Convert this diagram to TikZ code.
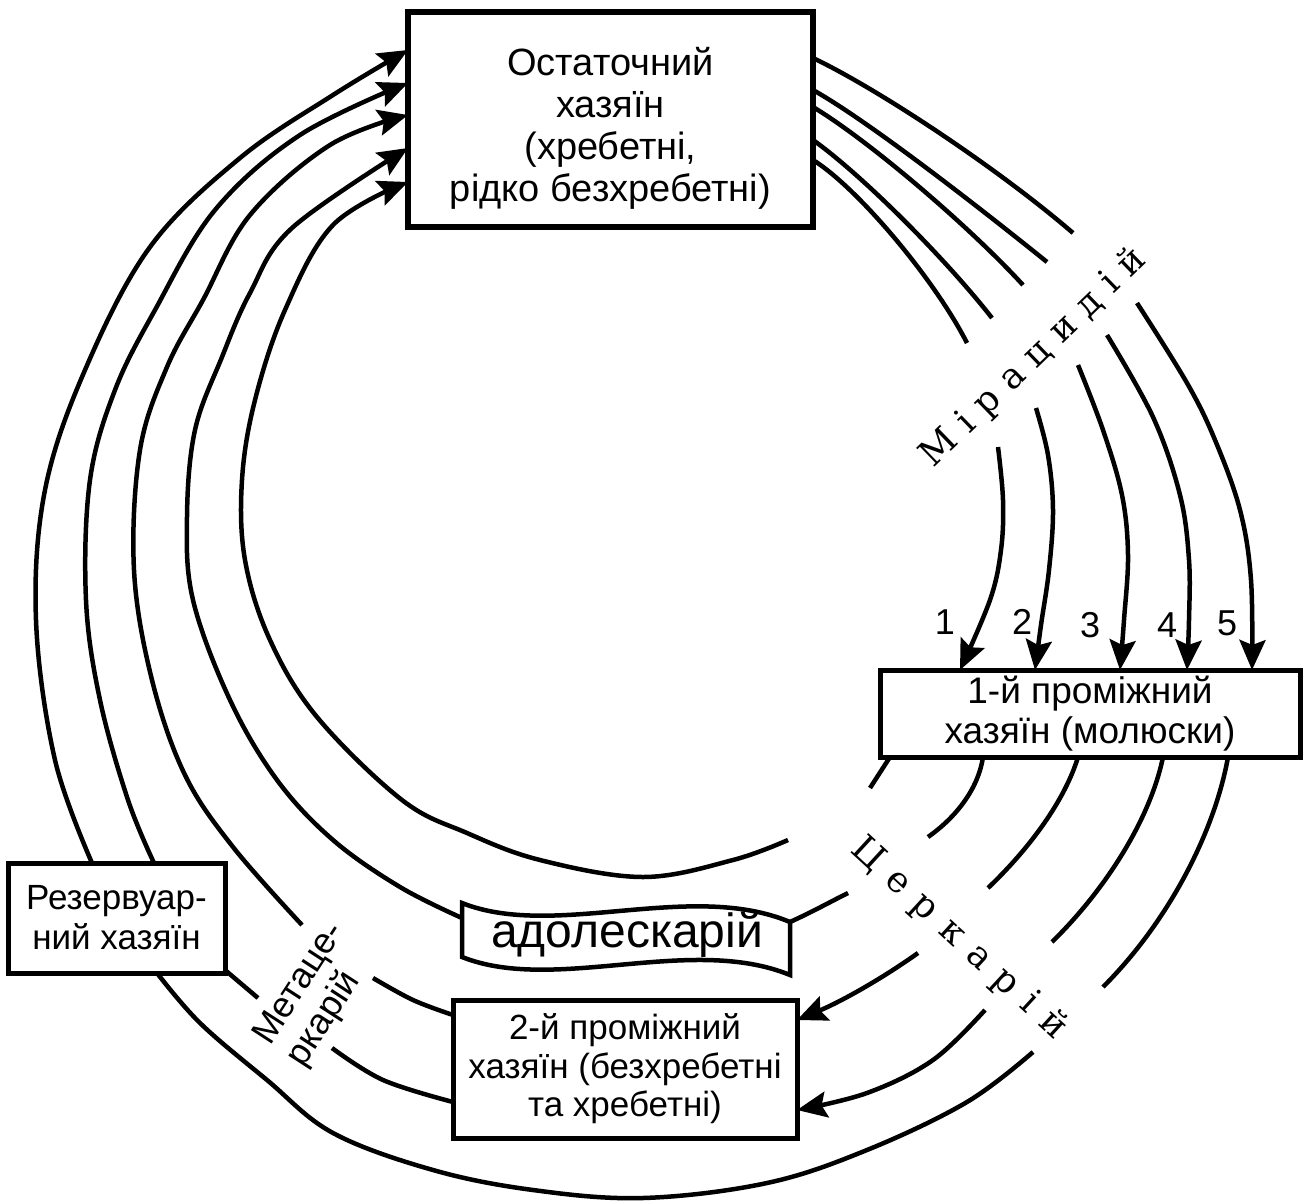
\documentclass[tikz,border=0pt]{standalone}
\usepackage{fontspec}
\setmainfont{Liberation Sans}
\newfontfamily\lserif{DejaVu Serif}
\usetikzlibrary{arrows.meta}
\newcommand\gapM{\hskip 12.5pt\relax}
\newcommand\gapC{\hskip 14.4pt\relax}
\begin{document}
\begin{tikzpicture}[x=1pt,y=-1pt,
  conn/.style={line width=4.5pt},
  arr/.style={-{Stealth[length=30pt,width=26pt,inset=5pt]}},
  box/.style={draw,line width=5pt,rectangle,inner sep=0pt,align=center},
  lbl/.style={font=\fontsize{36}{40}\selectfont,inner sep=0pt},
  spaced/.style={font=\lserif\fontsize{36}{36}\selectfont,inner sep=0pt}]
\fill[white] (0,0) rectangle (1304,1202);
\useasboundingbox (0,0) rectangle (1304,1202);

% ---------- boxes ----------
\node[box,line width=5.5pt,minimum width=405pt,minimum height=215pt] (top) at (610.5,119.5) {};
\node[align=center,inner sep=0pt,font=\fontsize{38}{42}\selectfont] (toptext)
  at ([yshift=-9pt]top.center) {Остаточний\\хазяїн\\(хребетні,\\рідко безхребетні)};
\node[box,minimum width=420pt,minimum height=87pt,
      font=\fontsize{37}{40}\selectfont] (host1) at (1090,713.5)
      {1-й проміжний\\хазяїн (молюски)};
\node[box,minimum width=344pt,minimum height=138pt,
      font=\fontsize{35}{38.5}\selectfont] (host2) at (625,1069)
      {2-й проміжний\\хазяїн (безхребетні\\та хребетні)};
\node[box,minimum width=217pt,minimum height=110pt,
      font=\fontsize{35}{40}\selectfont] (res) at (116.5,918)
      {Резервуар-\\ний хазяїн};

% banner
\draw[conn] (462,903) .. controls (555,940) and (690,880) .. (790,922)
  -- (790,975) .. controls (690,934) and (555,994) .. (462,957) -- cycle;
\node[font=\fontsize{48}{48}\selectfont,inner sep=0pt] (adol) at (627,935) {адолескарій};

% ---------- connection points ----------
\coordinate (t1) at (408,50);  \coordinate (t2) at (408,83);
\coordinate (t3) at (408,115); \coordinate (t4) at (408,148);
\coordinate (t5) at (408,182);
\coordinate (e1) at (813,58);  \coordinate (e2) at (813,90);
\coordinate (e3) at (813,107); \coordinate (e4) at (813,140);
\coordinate (e5) at (813,160);
\coordinate (p1) at (960,670);  \coordinate (p2) at (1035,670);
\coordinate (p3) at (1120,670); \coordinate (p4) at (1187,670);
\coordinate (p5) at (1252,670);
\coordinate (q1) at (890,757);  \coordinate (q2) at (983,757);
\coordinate (q3) at (1078,757); \coordinate (q4) at (1163,757);
\coordinate (q5) at (1228,757);
\coordinate (s1) at (797,1020); \coordinate (s2) at (797,1110);
\coordinate (w1) at (453,1015); \coordinate (w2) at (453,1102);
\coordinate (r1) at (92,863);   \coordinate (r2) at (154,863);
\coordinate (r3) at (157,973);  \coordinate (r4) at (225,970);
\coordinate (bl) at (462,918);  \coordinate (br) at (790,922);

% ---------- arcs into the final host ----------
\draw[conn,arr] plot[smooth,tension=0.6] coordinates
  {(r1) (55,760) (36,620) (45,490) (85,370) (150,247) (240,158) (333,95) (t1)};
\draw[conn,arr] plot[smooth,tension=0.6] coordinates
  {(r2) (128,800) (100,700) (86,600) (90,480) (115,390) (155,310) (215,210) (300,135) (t2)};
\draw[conn,arr] plot[smooth,tension=0.6] coordinates
  {(302,925) (233,847) (185,775) (152,680) (134,570) (140,450) (167,367) (203,300) (250,215) (330,145) (t3)};
\draw[conn,arr] plot[smooth,tension=0.6] coordinates
  {(bl) (400,887) (333,840) (277,780) (230,700) (193,600) (187,517) (195,430) (222,357) (250,293) (292,228) (t4)};
\draw[conn,arr] plot[smooth,tension=0.6] coordinates
  {(788,840) (733,860) (643,877) (540,860) (467,833) (402,800) (317,717) (270,640) (245,560) (242,480) (255,400) (285,310) (333,225) (t5)};

% ---------- miracidia ----------
\draw[conn] (e1) .. controls (880,90) and (1000,170) .. (1073,233);
\draw[conn] (e2) .. controls (870,122) and (985,212) .. (1047,262);
\draw[conn] (e3) .. controls (868,140) and (968,225) .. (1023,285);
\draw[conn] (e4) .. controls (862,175) and (945,258) .. (992,318);
\draw[conn] (e5) .. controls (858,188) and (935,280) .. (967,343);

\draw[conn,arr] plot[smooth,tension=0.6] coordinates {(1137,303) (1187,383) (1215,440) (1240,510) (1251,580) (p5)};
\draw[conn,arr] plot[smooth,tension=0.6] coordinates {(1107,335) (1153,417) (1180,495) (1189,560) (1189,620) (p4)};
\draw[conn,arr] plot[smooth,tension=0.6] coordinates {(1078,365) (1103,430) (1122,495) (1128,555) (1124,620) (p3)};
\draw[conn,arr] plot[smooth,tension=0.6] coordinates {(1036,408) (1048,455) (1053,510) (1049,570) (1041,625) (p2)};
\draw[conn,arr] plot[smooth,tension=0.6] coordinates {(998,447) (1003,500) (1001,550) (990,600) (p1)};

\node[lbl] (n1) at (945,622) {1};
\node[lbl] (n2) at (1022,622) {2};
\node[lbl] (n3) at (1090,625) {3};
\node[lbl] (n4) at (1167,625) {4};
\node[lbl] (n5) at (1227,623) {5};

\node[spaced,rotate=44] (mira) at (1034,358)
  {М\gapM і\gapM р\gapM а\gapM ц\gapM и\gapM д\gapM і\gapM й};

% ---------- cercariae ----------
\draw[conn] (q1) -- (870,788);
\draw[conn] (q2) .. controls (978,790) and (955,818) .. (928,837);
\draw[conn] (848,893) .. controls (830,902) and (812,912) .. (br);
\draw[conn] (q3) .. controls (1065,800) and (1030,848) .. (988,888);
\draw[conn,arr] (918,953) .. controls (880,980) and (840,1002) .. (s1);
\draw[conn] (q4) .. controls (1150,820) and (1105,890) .. (1052,942);
\draw[conn,arr] plot[smooth,tension=0.6] coordinates {(985,1010) (933,1060) (867,1093) (s2)};
\draw[conn] (q5) .. controls (1215,830) and (1170,920) .. (1103,987);
\draw[conn] plot[smooth,tension=0.6] coordinates
  {(1033,1052) (967,1102) (867,1150) (767,1183) (643,1198) (533,1190) (433,1170) (333,1133) (267,1080) (200,1023) (r3)};

\node[spaced,rotate=-42.6] (cerc) at (959,939)
  {Ц\gapC е\gapC р\gapC к\gapC а\gapC р\gapC і\gapC й};

% ---------- metacercariae ----------
\draw[conn] (r4) -- (258,998);
\draw[conn] plot[smooth,tension=0.6] coordinates {(332,1048) (383,1080) (w2)};
\draw[conn] plot[smooth,tension=0.6] coordinates {(373,978) (413,1000) (w1)};
\node[lbl,rotate=57,align=left,font=\fontsize{36}{40}\selectfont] (meta) at (317,995) {Метаце-\\ркарій};

\end{tikzpicture}
\end{document}
